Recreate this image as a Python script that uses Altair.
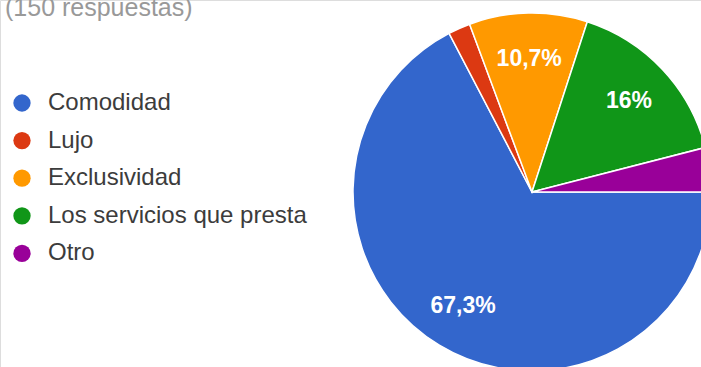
import math
import altair as alt
import pandas as pd

# Survey answers (150 respuestas)
titulo = "(150 respuestas)"
categorias = ["Comodidad", "Lujo", "Exclusividad", "Los servicios que presta", "Otro"]
respuestas = [101, 3, 16, 24, 6]
colores = ["#3366cc", "#dc3912", "#ff9900", "#109618", "#990099"]

total = sum(respuestas)


def porcentaje(v):
    p = v / total * 100
    if p < 5:
        return ""
    s = f"{p:.1f}".replace(".", ",")
    if s.endswith(",0"):
        s = s[:-2]
    return s + "%"


df = pd.DataFrame({
    "categoria": categorias,
    "respuestas": respuestas,
    "orden": list(range(len(categorias))),
    "etiqueta": [porcentaje(v) for v in respuestas],
})

FONT = "Liberation Sans"
CX, CY, R = 532, 192, 179

theta = alt.Theta(
    "respuestas:Q",
    stack=True,
    scale=alt.Scale(range=[math.pi / 2, math.pi / 2 + 2 * math.pi]),
)
color = alt.Color(
    "categoria:N",
    scale=alt.Scale(domain=categorias, range=colores),
    sort=categorias,
    legend=alt.Legend(
        orient="none",
        legendX=10,
        legendY=91,
        title=None,
        symbolType="circle",
        symbolSize=300,
        symbolStrokeWidth=0,
        labelFontSize=24,
        labelFont=FONT,
        labelColor="#3c3c3c",
        labelOffset=14,
        rowPadding=13.6,
        labelLimit=400,
    ),
)

base = alt.Chart(df)

pastel = base.mark_arc(radius=R, stroke="white", strokeWidth=1.5).encode(
    theta=theta,
    color=color,
    order=alt.Order("orden:Q"),
    x=alt.value(CX),
    y=alt.value(CY),
)

etiquetas = base.mark_text(
    radius=133,
    font=FONT,
    fontSize=23,
    fontWeight="bold",
    color="white",
    align="center",
    baseline="middle",
).encode(
    theta=theta,
    text="etiqueta:N",
    order=alt.Order("orden:Q"),
    x=alt.value(CX),
    y=alt.value(CY),
)

encabezado = alt.Chart(pd.DataFrame({"t": [titulo]})).mark_text(
    font=FONT,
    fontSize=25,
    color="#999999",
    align="left",
    baseline="alphabetic",
).encode(text="t:N", x=alt.value(5), y=alt.value(16))

chart = (
    alt.layer(pastel, etiquetas, encabezado)
    .properties(width=701, height=367, autosize=alt.AutoSizeParams(type="none"), padding=0)
    .configure_view(stroke=None)
    .configure(background="white")
)

chart.save("out.html", embed_options={"renderer": "svg", "actions": False})
